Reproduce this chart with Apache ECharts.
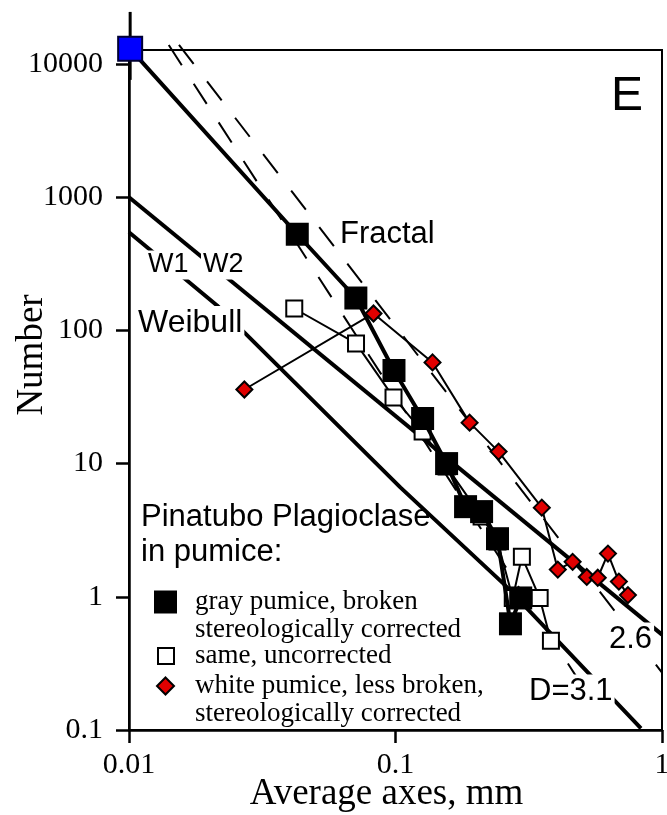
<!DOCTYPE html>
<html>
<head>
<meta charset="utf-8">
<script src="https://cdn.jsdelivr.net/npm/echarts@6/dist/echarts.min.js"></script>
<style>
html, body { margin: 0; padding: 0; background: #fff; }
#chart { width: 667px; height: 815px; }
</style>
</head>
<body>
<div id="chart"></div>
<script>
// Cumulative number of plagioclase crystals vs. average axis length (mm), log-log.

// Total-population estimate (blue) with its vertical range
const blueX = [0.0101];
const blueY = [13000];
const blueRangeY = [7600, 24600];

// Gray pumice, broken, stereologically corrected
const grayX = [0.0428, 0.0710, 0.0987, 0.1264, 0.1555, 0.1832, 0.2104, 0.2414, 0.2700, 0.2950];
const grayY = [527, 175, 50, 21.8, 10.0, 4.75, 4.36, 2.73, 0.627, 0.98];

// Same, uncorrected
const uncorrX = [0.0417, 0.0711, 0.0983, 0.1264, 0.1555, 0.2104, 0.2414, 0.2754, 0.2980, 0.3475, 0.3830];
const uncorrY = [146, 79.8, 31.4, 17.4, 9.5, 4.0, 2.6, 0.98, 2.0, 0.98, 0.467];

// White pumice, less broken, stereologically corrected
const whiteX = [0.0271, 0.0827, 0.1377, 0.1897, 0.2437, 0.354, 0.4065, 0.462, 0.522, 0.574, 0.627, 0.689, 0.745];
const whiteY = [36, 134, 57.5, 20.3, 12.3, 4.67, 1.60, 1.83, 1.41, 1.39, 2.11, 1.30, 1.03];

// Weibull curves
const weibullUpperX = [0.01, 1];
const weibullUpperY = [1000, 0.52];
const weibullLowerX = [0.01, 0.0214, 0.1045, 0.2547, 0.834];
const weibullLowerY = [546, 154, 6.6, 1.25, 0.103];

// Fractal (power-law) lines N = C * x^-D
const fractalD = [2.6, 3.1];
const fractalC = [0.27, 0.0254];
const fractalXStart = [0.0154, 0.0141];
const fractalXEnd = [1.0, 0.55];

// Axis ticks
const xTickValues = [0.01, 0.1, 1];
const xTickLabels = ['0.01', '0.1', '1'];
const yTickValues = [0.1, 1, 10, 100, 1000, 10000];
const yTickLabels = ['0.1', '1', '10', '100', '1000', '10000'];

const legendNames = [
  'gray pumice, broken\nstereologically corrected',
  'same, uncorrected',
  'white pumice, less broken,\nstereologically corrected'
];

const SERIF = '"Liberation Serif", "Times New Roman", serif';
const SANS = '"Liberation Sans", Arial, sans-serif';

const pair = (xs, ys) => xs.map((x, i) => [x, ys[i]]);
const lookupLabel = (values, labels) => v => {
  for (let i = 0; i < values.length; i++) {
    if (Math.abs(Math.log10(v) - Math.log10(values[i])) < 1e-6) return labels[i];
  }
  return '';
};
const fractalLine = i => [fractalXStart[i], fractalXEnd[i]].map(x => [x, fractalC[i] * Math.pow(x, -fractalD[i])]);

const tickLine = { color: '#000', width: 2.5 };

const annotation = (text, x, y, size, boxed) => ({
  type: 'text', x: x, y: y, z: 20,
  style: Object.assign({
    text: text, fill: '#000', fontFamily: SANS, fontSize: size,
    align: 'left', verticalAlign: 'middle'
  }, boxed ? { backgroundColor: '#fff', padding: [1, 2, 1, 2] } : {})
});

// Two-line entries get a blank first line so the icon sits beside the first text line
const legendFormatter = name => (name.indexOf('\n') >= 0 ? ' \n' + name : name);
const legendText = (padLeft) => ({
  fontFamily: SERIF, fontSize: 27, lineHeight: 28, color: '#000', padding: [0, 0, 0, padLeft]
});

const chart = echarts.init(document.getElementById('chart'), null, { renderer: 'canvas' });

chart.setOption({
  animation: false,
  backgroundColor: '#fff',
  title: [
    { text: 'E', left: 611, top: 73, padding: 0,
      textStyle: { fontFamily: SANS, fontSize: 48, fontWeight: 'normal', color: '#000' } },
    { text: 'Pinatubo Plagioclase\nin pumice:', left: 141, top: 500, padding: 0,
      textStyle: { fontFamily: SANS, fontSize: 31, fontWeight: 'normal', lineHeight: 35, color: '#000' } }
  ],
  grid: [
    { left: 129, right: 5, top: 50, bottom: 85, show: true, borderColor: '#000', borderWidth: 2,
      backgroundColor: 'transparent', outerBoundsMode: 'none' },
    { left: 129, right: 5, top: 64, bottom: 85, show: false, outerBoundsMode: 'none' }
  ],
  xAxis: [
    {
      gridIndex: 0, type: 'log', logBase: 10, min: 0.01, max: 1,
      name: 'Average axes, mm', nameLocation: 'middle', nameGap: 46, nameMoveOverlap: false,
      nameTextStyle: { fontFamily: SERIF, fontSize: 37, color: '#000', padding: [0, 18, 0, 0] },
      axisLine: { onZero: false, lineStyle: tickLine },
      axisTick: { length: 13, lineStyle: tickLine },
      axisLabel: { margin: 20, fontFamily: SERIF, fontSize: 30, color: '#000',
        formatter: lookupLabel(xTickValues, xTickLabels) },
      splitLine: { show: false }, minorTick: { show: false }
    },
    { gridIndex: 1, type: 'log', logBase: 10, min: 0.01, max: 1, show: false }
  ],
  yAxis: [
    {
      gridIndex: 0, type: 'log', logBase: 10, min: 0.1, max: 12735,
      axisLine: { show: true, onZero: false, lineStyle: tickLine },
      axisTick: { show: false }, axisLabel: { show: false }, splitLine: { show: false }
    },
    {
      gridIndex: 1, type: 'log', logBase: 10, min: 0.1, max: 10000,
      name: 'Number', nameLocation: 'middle', nameGap: 78, nameMoveOverlap: false,
      nameTextStyle: { fontFamily: SERIF, fontSize: 37, color: '#000', padding: [0, 0, 0, 84] },
      axisLine: { show: false },
      axisTick: { show: true, length: 13, lineStyle: tickLine },
      axisLabel: { margin: 26, fontFamily: SERIF, fontSize: 30, color: '#000',
        formatter: lookupLabel(yTickValues, yTickLabels) },
      splitLine: { show: false }
    }
  ],
  legend: [
    { data: [legendNames[0]], left: 154, top: 560, padding: 0, selectedMode: false,
      icon: 'rect', itemWidth: 23, itemHeight: 23, formatter: legendFormatter,
      itemStyle: { color: '#000', borderWidth: 0 }, textStyle: legendText(13) },
    { data: [legendNames[1]], left: 157, top: 642, padding: 0, selectedMode: false,
      icon: 'rect', itemWidth: 16, itemHeight: 16, formatter: legendFormatter,
      itemStyle: { color: '#fff', borderColor: '#000', borderWidth: 2 }, textStyle: legendText(16) },
    { data: [legendNames[2]], left: 156, top: 644, padding: 0, selectedMode: false,
      icon: 'diamond', itemWidth: 17, itemHeight: 17, formatter: legendFormatter,
      itemStyle: { color: '#e00000', borderColor: '#000', borderWidth: 2 }, textStyle: legendText(16) }
  ],
  graphic: [
    annotation('Fractal', 340, 234, 31, false),
    annotation('Weibull', 136, 323, 32, true),
    annotation('W1', 146, 265, 27, true),
    annotation('W2', 201, 265, 27, true),
    annotation('2.6', 607, 639, 31, true),
    annotation('D=3.1', 527, 691, 31, true)
  ],
  series: [
    { name: 'Weibull W2', type: 'line', data: pair(weibullUpperX, weibullUpperY),
      symbol: 'none', lineStyle: { color: '#000', width: 4 }, z: 2, silent: true },
    { name: 'Weibull W1', type: 'line', data: pair(weibullLowerX, weibullLowerY),
      symbol: 'none', lineStyle: { color: '#000', width: 4 }, z: 2, silent: true },
    { name: 'D=2.6', type: 'line', data: fractalLine(0), clip: false,
      symbol: 'none', lineStyle: { color: '#000', width: 2, type: [24, 22] }, z: 2, silent: true },
    { name: 'D=3.1', type: 'line', data: fractalLine(1), clip: false,
      symbol: 'none', lineStyle: { color: '#000', width: 2, type: [24, 22] }, z: 2, silent: true },
    { name: 'total range', type: 'line', clip: false,
      data: [[blueX[0], blueRangeY[0]], [blueX[0], blueRangeY[1]]],
      symbol: 'none', lineStyle: { color: '#000', width: 3 }, z: 3, silent: true },
    { name: legendNames[1], type: 'line', data: pair(uncorrX, uncorrY),
      symbol: 'rect', symbolSize: 16,
      itemStyle: { color: '#fff', borderColor: '#000', borderWidth: 2 },
      lineStyle: { color: '#000', width: 2 }, z: 3 },
    { name: legendNames[0], type: 'line', clip: false,
      data: [{ value: [blueX[0], blueY[0]], symbolSize: 24,
               itemStyle: { color: '#0000ff', borderColor: '#000033', borderWidth: 2 } }]
            .concat(pair(grayX, grayY)),
      symbol: 'rect', symbolSize: 23,
      itemStyle: { color: '#000' },
      lineStyle: { color: '#000', width: 4 }, z: 4 },
    { name: legendNames[2], type: 'line', data: pair(whiteX, whiteY),
      symbol: 'diamond', symbolSize: 16,
      itemStyle: { color: '#e00000', borderColor: '#000', borderWidth: 2 },
      lineStyle: { color: '#000', width: 2 }, z: 5 }
  ]
});
</script>
</body>
</html>
